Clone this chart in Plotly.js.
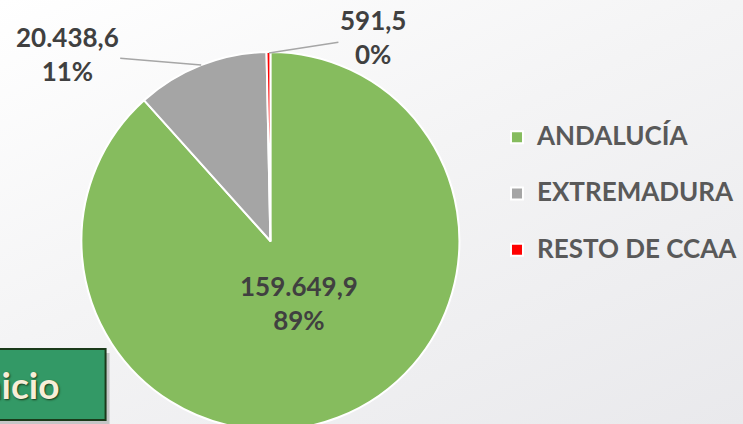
<!DOCTYPE html>
<html>
<head>
<meta charset="utf-8">
<script src="https://cdn.plot.ly/plotly-3.0.1.min.js"></script>
<style>
  html, body { margin: 0; padding: 0; width: 743px; height: 424px; overflow: hidden;
    background: linear-gradient(155deg, #ffffff 0%, #f4f4f5 45%, #e9e9ec 100%); }
  #chart { width: 743px; height: 470px; }
</style>
</head>
<body>
<div id="chart"></div>
<script>
// ---- data ----
var regions = ['ANDALUCÍA', 'EXTREMADURA', 'RESTO DE CCAA'];
var amounts = [159649.9, 20438.6, 591.5];
var pctLabels = ['89%', '11%', '0%'];
var sliceColors = ['#86BC5E', '#A5A5A5', '#FF0000'];
var buttonLabel = 'Inicio';

function fmtEs(v) {
  var parts = v.toFixed(1).split('.');
  var intPart = parts[0].replace(/\B(?=(\d{3})+(?!\d))/g, '.');
  return intPart + ',' + parts[1];
}

var W = 743, H = 470;
var FONT = 'Lato, "Open Sans", sans-serif';
var LABEL_COLOR = '#404040';
var LABEL_FONT = { family: FONT, size: 26, color: LABEL_COLOR, weight: 'bold' };

var trace = {
  type: 'pie',
  labels: regions.map(function (r) {
    return '<span style="font-size:26px;baseline-shift:8px">' + r + '</span>';
  }),
  values: amounts,
  sort: false,
  direction: 'clockwise',
  rotation: 0,
  marker: { colors: sliceColors, line: { color: '#ffffff', width: 2 } },
  textinfo: 'none',
  hoverinfo: 'none',
  domain: { x: [0.0, 0.7308], y: [0.0851, 0.8894] }
};

function px(x) { return x / W; }
function py(y) { return (H - y) / H; }

function lbl(i) { return fmtEs(amounts[i]) + '<br>' + pctLabels[i]; }

var annotations = [
  {
    xref: 'paper', yref: 'paper', x: px(300), y: py(303),
    xanchor: 'center', yanchor: 'middle', showarrow: false,
    text: lbl(0), font: LABEL_FONT, align: 'center'
  },
  {
    xref: 'paper', yref: 'paper', x: px(202), y: py(65),
    ax: -134, ay: -11,
    text: lbl(1),
    showarrow: true, arrowhead: 0, arrowwidth: 1.5, arrowcolor: '#a6a6a6',
    font: LABEL_FONT, align: 'center'
  },
  {
    xref: 'paper', yref: 'paper', x: px(270), y: py(53),
    ax: 104, ay: -16,
    text: lbl(2),
    showarrow: true, arrowhead: 0, arrowwidth: 1.5, arrowcolor: '#a6a6a6',
    font: LABEL_FONT, align: 'center'
  },
  {
    xref: 'paper', yref: 'paper', x: px(61), y: py(384),
    xanchor: 'right', yanchor: 'middle', showarrow: false,
    text: buttonLabel,
    font: { family: FONT, size: 37, color: '#f7eed8', weight: 'bold', shadow: '1px 1px 2px #1a3a1a' }
  }
];

var shapes = [
  { type: 'rect', xref: 'paper', yref: 'paper',
    x0: px(-10), x1: px(110), y0: py(424), y1: py(353),
    fillcolor: 'rgba(0,0,0,0.18)', line: { width: 0 }, layer: 'below' },
  { type: 'rect', xref: 'paper', yref: 'paper',
    x0: px(-10), x1: px(106), y0: py(420), y1: py(349),
    fillcolor: '#339966', line: { color: '#1a3a1a', width: 2 }, layer: 'below' }
];

var layout = {
  width: W, height: H,
  margin: { l: 0, r: 0, t: 0, b: 0 },
  paper_bgcolor: 'rgba(0,0,0,0)',
  plot_bgcolor: 'rgba(0,0,0,0)',
  separators: ',.',
  showlegend: true,
  legend: {
    x: px(499), xanchor: 'left',
    y: py(104), yanchor: 'top',
    bgcolor: 'rgba(0,0,0,0)',
    font: { family: FONT, size: 41, color: '#595959', weight: 'bold' }
  },
  annotations: annotations,
  shapes: shapes
};

Plotly.newPlot('chart', [trace], layout, { displayModeBar: false, staticPlot: true });
</script>
</body>
</html>
